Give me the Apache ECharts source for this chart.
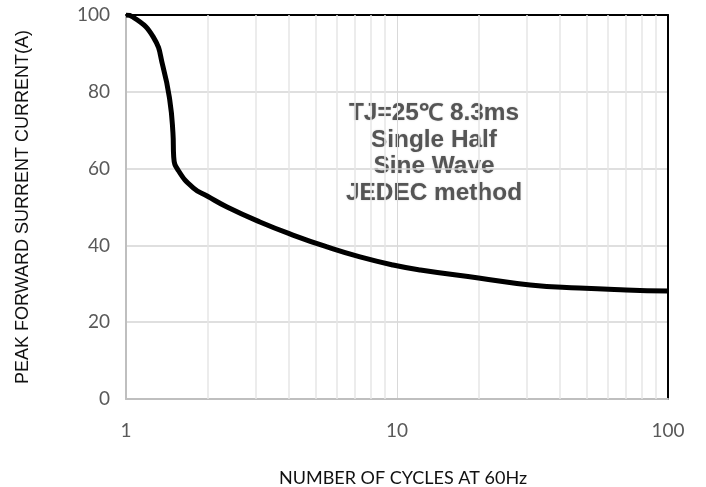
<!DOCTYPE html>
<html>
<head>
<meta charset="utf-8">
<script src="https://cdn.jsdelivr.net/npm/echarts@6/dist/echarts.min.js"></script>
<style>
html,body{margin:0;padding:0;background:#fff;}
#chart{width:706px;height:487px;}
</style>
</head>
<body>
<div id="chart"></div>
<script>
// Data
const cycles  = [1, 1.06, 1.26, 1.37, 1.45, 1.49, 1.5, 1.56, 1.77, 2.0, 2.36, 3.12, 4.13, 5.52, 7.3, 9.67, 12.2, 20, 31, 47, 70, 100];
const current = [100, 99.5, 94.3, 86.5, 77.9, 69.3, 63, 59.5, 55, 52.8, 50, 46.1, 42.7, 39.6, 37, 34.9, 33.6, 31.5, 29.7, 28.9, 28.4, 28.1];
const minorGridX = [2, 3, 4, 5, 6, 7, 8, 9, 20, 30, 40, 50, 60, 70, 80, 90];
const yTicks = [0, 20, 40, 60, 80, 100];
const xTickLabels = [1, 10, 100];
const noteLines = ['TJ=25\u2103 8.3ms', 'Single Half', 'Sine Wave', 'JEDEC method'];

const chart = echarts.init(document.getElementById('chart'));
const labelFont = 'Lato, "Open Sans", sans-serif';

chart.setOption({
  animation: false,
  backgroundColor: '#fff',
  grid: { left: 126, right: 38, top: 15, bottom: 88, containLabel: false, outerBoundsMode: 'none' },
  xAxis: [{
    type: 'log', logBase: 10, min: xTickLabels[0], max: xTickLabels[xTickLabels.length - 1],
    position: 'bottom',
    name: 'NUMBER OF CYCLES AT 60Hz', nameLocation: 'middle', nameGap: 70,
    nameTextStyle: { fontFamily: labelFont, fontSize: 18, color: '#111', padding: [0, 0, 0, 12] },
    axisLine: { show: true, onZero: false, lineStyle: { color: '#bfbfbf', width: 2 } },
    axisTick: { show: false },
    axisLabel: { fontFamily: labelFont, fontSize: 19, color: '#595959', margin: 22 },
    splitLine: { show: true, lineStyle: { color: '#d9d9d9', width: 1 } },
    minorTick: { show: false }, minorSplitLine: { show: false }
  }, {
    type: 'log', logBase: 10, min: 1, max: 100, position: 'top',
    axisLine: { show: true, onZero: false, lineStyle: { color: '#000', width: 2 } },
    axisTick: { show: false }, axisLabel: { show: false }, splitLine: { show: false }
  }],
  yAxis: [{
    type: 'value', min: yTicks[0], max: yTicks[yTicks.length - 1], interval: 20,
    position: 'left',
    name: 'PEAK FORWARD SURRENT CURRENT(A)', nameLocation: 'middle', nameGap: 94,
    nameTextStyle: { fontFamily: '"Liberation Sans", Arial, sans-serif', fontSize: 18, color: '#111' },
    axisLine: { show: true, onZero: false, lineStyle: { color: '#bfbfbf', width: 2 } },
    axisTick: { show: false },
    axisLabel: { fontFamily: labelFont, fontSize: 19, color: '#595959', margin: 16 },
    splitLine: { show: true, lineStyle: { color: '#d4d4d4', width: 1.5 } }
  }, {
    type: 'value', min: 0, max: 100, position: 'right',
    axisLine: { show: true, onZero: false, lineStyle: { color: '#000', width: 2 } },
    axisTick: { show: false }, axisLabel: { show: false }, splitLine: { show: false }
  }],
  graphic: [{
    type: 'group', z: 100,
    children: [
      { type: 'rect', shape: { x: 328, y: 88, width: 205, height: 132 }, style: { fill: '#fff' } }
    ].concat(noteLines.map((t, i) => ({
      type: 'text', x: 434, y: 114 + i * 26.5, scaleX: 1.06,
      style: {
        text: t, align: 'center', verticalAlign: 'middle',
        font: 'bold 23px "Liberation Sans", Arial, sans-serif', fill: '#555555',
        textShadowColor: 'rgba(80,80,80,0.35)', textShadowBlur: 1.5
      }
    })))
  }],
  series: [{
    type: 'line', data: [], z: 1, silent: true,
    markLine: {
      silent: true, symbol: 'none', label: { show: false },
      lineStyle: { color: '#e6e6e6', width: 1.5, type: 'solid' },
      data: minorGridX.map(v => ({ xAxis: v }))
    }
  }, {
    type: 'line', z: 5,
    data: cycles.map((c, i) => [c, current[i]]),
    showSymbol: false, smooth: 0.5,
    lineStyle: { color: '#000', width: 5 }
  }]
});
</script>
</body>
</html>
